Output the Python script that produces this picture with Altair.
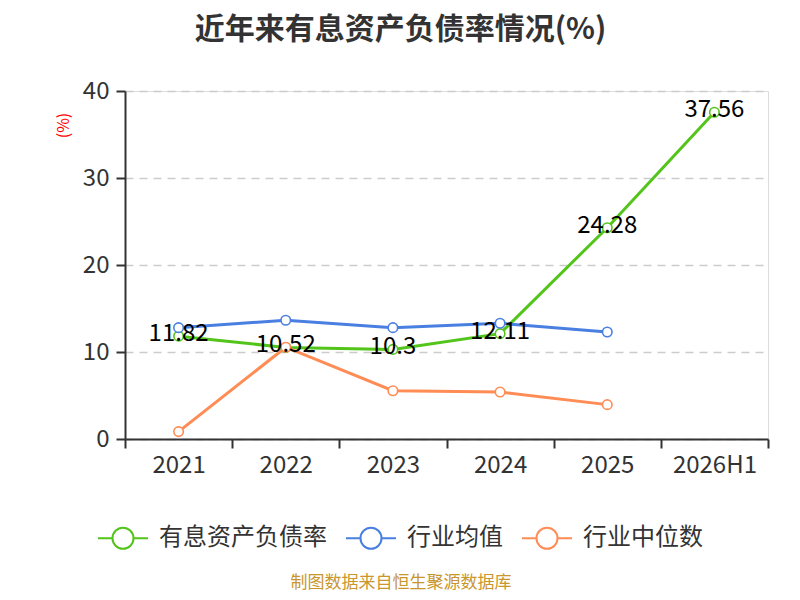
import altair as alt
import pandas as pd

years = ["2021", "2022", "2023", "2024", "2025", "2026H1"]
debt_ratio = [11.82, 10.52, 10.3, 12.11, 24.28, 37.56]
industry_avg = [12.8, 13.65, 12.8, 13.3, 12.3]
industry_median = [0.85, 10.55, 5.55, 5.4, 3.95]
series_names = ["有息资产负债率", "行业均值", "行业中位数"]
colors = ["#52C41A", "#4A7FE2", "#FF8C55"]

FONT = "Noto Sans CJK SC"

rows = []
for name, vals in zip(series_names, [debt_ratio, industry_avg, industry_median]):
    for yr, v in zip(years, vals):
        rows.append({"year": yr, "value": v, "series": name, "label": f"{v:g}"})
df = pd.DataFrame(rows)

PATH = ("M-1,0L-0.42,0M0.42,0L1,0M-0.42,0A0.42,0.42,0,1,1,0.42,0"
        "A0.42,0.42,0,1,1,-0.42,0")

x = alt.X("year:N", sort=years,
          scale=alt.Scale(type="band", paddingInner=0, paddingOuter=0, domain=years),
          axis=alt.Axis(title=None, labelAngle=0, tickBand="extent", tickSize=9,
                        labelPadding=5, labelFontSize=24, labelFont=FONT,
                        labelColor="#333", domainColor="#333", tickColor="#333",
                        domainWidth=2, tickWidth=2, grid=False))
y = alt.Y("value:Q", scale=alt.Scale(domain=[0, 40]),
          axis=alt.Axis(values=[0, 10, 20, 30, 40], title="(%)", titleColor="red",
                        titleFontSize=16, titleFontWeight="normal", titleFont=FONT,
                        titleAngle=-90, titleX=-62, titleY=34, titleAlign="center",
                        titleBaseline="middle", gridDash=[8, 6], gridColor="#cccccc",
                        gridWidth=1.6, tickSize=9, labelPadding=7, labelFontSize=24,
                        labelFont=FONT, labelColor="#333", domainColor="#333",
                        tickColor="#333", domainWidth=2, tickWidth=2))
color = alt.Color("series:N",
                  scale=alt.Scale(domain=series_names, range=colors),
                  legend=alt.Legend(title=None, orient="none", legendX=-28, legendY=421,
                                    direction="horizontal", symbolType=PATH,
                                    symbolSize=2500, symbolStrokeWidth=2,
                                    symbolFillColor="white", labelFontSize=24,
                                    labelFont=FONT, labelColor="#333", labelOffset=10,
                                    labelLimit=0, columnPadding=15))

base = alt.Chart(df)
lines = base.mark_line(strokeWidth=3).encode(x=x, y=y, color=color)
points = base.mark_point(filled=False, fill="white", fillOpacity=1, opacity=1,
                         size=90, strokeWidth=1.6).encode(x=x, y=y, color=color)
labels = base.transform_filter(alt.datum.series == series_names[0]).mark_text(
    fontSize=24, font=FONT, color="black", baseline="middle", dy=-2
).encode(x=x, y=y, text="label:N")

source = alt.Chart(pd.DataFrame({"t": ["制图数据来自恒生聚源数据库"]})).mark_text(
    fontSize=17, font=FONT, color="#C9962E", align="center", baseline="bottom"
).encode(x=alt.value(276), y=alt.value(501), text="t:N")

chart = alt.layer(lines, points, labels, source).properties(
    width=643, height=348,
    autosize=alt.AutoSizeParams(type="none"),
    padding={"left": 117, "top": 83, "right": 24, "bottom": 153},
    title=alt.TitleParams("近年来有息资产负债率情况(%)", fontSize=30, fontWeight="bold",
                          font=FONT, color="#333", anchor="middle", dx=-46, offset=34),
).configure_view(stroke=None).configure(background="white")

chart.save("out.html", embed_options={"renderer": "svg", "actions": False})
